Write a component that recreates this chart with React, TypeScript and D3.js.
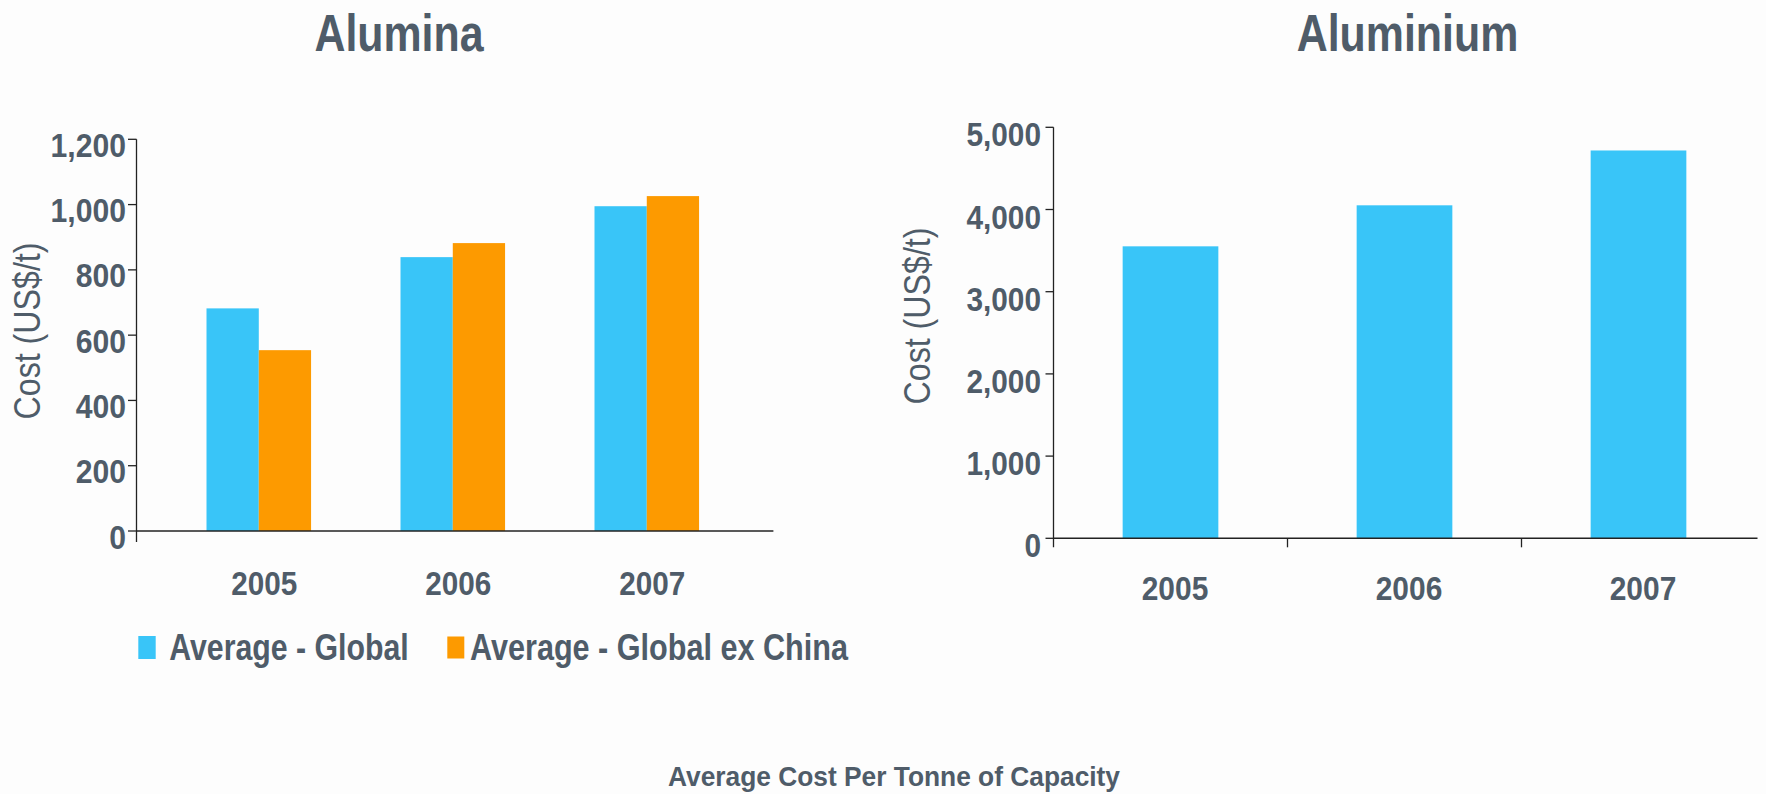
import React from "react";
import * as d3 from "d3";

// Alumina: average cost per tonne of capacity (US$/t)
const aluminaYears = ["2005", "2006", "2007"];
const aluminaSeries = ["Average - Global", "Average - Global ex China"];
const aluminaGlobal = [682, 839, 995];
const aluminaExChina = [554, 882, 1026];
const aluminaTicks = [0, 200, 400, 600, 800, 1000, 1200];

// Aluminium: average cost per tonne of capacity (US$/t)
const aluminiumYears = ["2005", "2006", "2007"];
const aluminiumGlobal = [3552, 4051, 4718];
const aluminiumTicks = [0, 1000, 2000, 3000, 4000, 5000];

const seriesColors = ["#39c5f8", "#fd9a00"];

const W = 1766;
const H = 794;
const TEXT = "#4f5c69";
const AXIS = "#222";
const FONT = "'Liberation Sans', Arial, sans-serif";
const fmt = d3.format(",");

type TProps = {
  x: number;
  y: number;
  size: number;
  sx?: number;
  anchor?: "start" | "middle" | "end";
  rotate?: number;
  len?: number;
  weight?: number | string;
  children: React.ReactNode;
};

// Text drawn with a horizontal squeeze to get the narrow face of the original type
function T({ x, y, size, sx = 0.9, anchor = "middle", rotate = 0, len, weight = "bold", children }: TProps) {
  return (
    <text
      transform={`translate(${x},${y}) rotate(${rotate}) scale(${len ? 1 : sx},1)`}
      textAnchor={anchor}
      fontSize={size}
      fontFamily={FONT}
      fontWeight={weight}
      fill={TEXT}
      textLength={len}
      lengthAdjust={len ? "spacingAndGlyphs" : undefined}
    >
      {children}
    </text>
  );
}

function AluminaChart() {
  const y = d3.scaleLinear().domain([0, 1200]).range([531, 139.3]);
  const axisX = 136.5;
  const axisEnd = 773.4;
  const x = d3
    .scaleBand<string>()
    .domain(aluminaYears)
    .range([axisX, axisEnd])
    .paddingInner(0.461)
    .paddingOuter(0.372)
    .align(0.485);
  const xs = d3.scaleBand<string>().domain(aluminaSeries).range([0, x.bandwidth()]);
  const values = [aluminaGlobal, aluminaExChina];

  return (
    <g>
      <T x={399} y={51} size={52} len={169}>Alumina</T>
      {aluminaSeries.map((s, si) =>
        aluminaYears.map((yr, i) => (
          <rect
            key={s + yr}
            x={(x(yr) ?? 0) + (xs(s) ?? 0)}
            y={y(values[si][i])}
            width={xs.bandwidth()}
            height={y(0) - y(values[si][i])}
            fill={seriesColors[si]}
          />
        ))
      )}
      {/* value axis */}
      <line x1={axisX} x2={axisX} y1={y(1200)} y2={y(0) + 11} stroke={AXIS} strokeWidth={1.3} />
      {aluminaTicks.map((t) => (
        <g key={t}>
          <line x1={axisX - 8.5} x2={axisX} y1={y(t)} y2={y(t)} stroke={AXIS} strokeWidth={1.3} />
          <T x={126} y={y(t) + 17.5} size={33.5} sx={0.9} anchor="end">
            {fmt(t)}
          </T>
        </g>
      ))}
      {/* category axis */}
      <line x1={axisX} x2={axisEnd} y1={y(0)} y2={y(0)} stroke={AXIS} strokeWidth={1.5} />
      {aluminaYears.map((yr) => (
        <T key={yr} x={(x(yr) ?? 0) + x.bandwidth() / 2 + 5.5} y={595} size={33} sx={0.9}>
          {yr}
        </T>
      ))}
      <T x={40} y={331} size={36} rotate={-90} len={177} weight="normal">Cost (US$/t)</T>
      {/* legend */}
      <rect x={138.3} y={636} width={17.4} height={23} fill={seriesColors[0]} />
      <T x={169.3} y={660} size={37} anchor="start" len={239.4}>{aluminaSeries[0]}</T>
      <rect x={447.3} y={636.5} width={17} height={22} fill={seriesColors[1]} />
      <T x={470} y={660} size={37} anchor="start" len={378}>{aluminaSeries[1]}</T>
    </g>
  );
}

function AluminiumChart() {
  const y = d3.scaleLinear().domain([0, 5000]).range([538.3, 127.3]);
  const axisX = 1053.5;
  const axisEnd = 1755.5;
  const x = d3
    .scaleBand<string>()
    .domain(aluminiumYears)
    .range([axisX, axisEnd])
    .paddingInner(0.591)
    .paddingOuter(0.2955);
  const gap = (x.step() * x.paddingInner()) / 2;

  return (
    <g>
      <T x={1407.5} y={51} size={52} len={221.6}>Aluminium</T>
      {aluminiumYears.map((yr, i) => (
        <rect
          key={yr}
          x={x(yr)}
          y={y(aluminiumGlobal[i])}
          width={x.bandwidth()}
          height={y(0) - y(aluminiumGlobal[i])}
          fill={seriesColors[0]}
        />
      ))}
      <line x1={axisX} x2={axisX} y1={y(5000)} y2={y(0) + 9} stroke={AXIS} strokeWidth={1.3} />
      {aluminiumTicks.map((t) => (
        <g key={t}>
          <line x1={axisX - 8} x2={axisX} y1={y(t)} y2={y(t)} stroke={AXIS} strokeWidth={1.3} />
          <T x={1041} y={y(t) + 19} size={33.5} sx={0.89} anchor="end">
            {fmt(t)}
          </T>
        </g>
      ))}
      <line x1={axisX} x2={axisEnd + 2} y1={y(0)} y2={y(0)} stroke={AXIS} strokeWidth={1.5} />
      {aluminiumYears.slice(1).map((yr) => (
        <line
          key={yr}
          x1={(x(yr) ?? 0) - gap}
          x2={(x(yr) ?? 0) - gap}
          y1={y(0)}
          y2={y(0) + 9}
          stroke={AXIS}
          strokeWidth={1.3}
        />
      ))}
      {aluminiumYears.map((yr) => (
        <T key={yr} x={(x(yr) ?? 0) + x.bandwidth() / 2 + 4.5} y={600} size={34} sx={0.88}>
          {yr}
        </T>
      ))}
      <T x={930} y={316} size={36} rotate={-90} len={177} weight="normal">Cost (US$/t)</T>
    </g>
  );
}

export default function App() {
  return (
    <div style={{ position: "fixed", left: 0, top: 0 }}>
      <svg width={W} height={H} style={{ display: "block", background: "#fdfdfd" }}>
        <AluminaChart />
        <AluminiumChart />
        <T x={894} y={786} size={28} len={452}>Average Cost Per Tonne of Capacity</T>
      </svg>
    </div>
  );
}
